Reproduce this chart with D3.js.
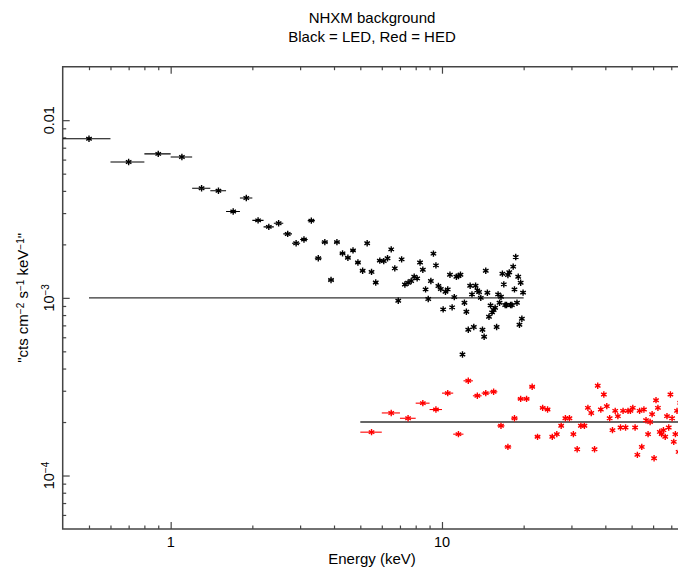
<!DOCTYPE html>
<html>
<head>
<meta charset="utf-8">
<script src="https://cdn.jsdelivr.net/npm/d3@7"></script>
<style>
  body { margin: 0; background: #fff; }
  svg { display: block; font-family: "Liberation Sans", Arial, sans-serif; }
</style>
</head>
<body>
<div id="chart"></div>
<script>
// LED (black) background spectrum, bins of 0.2 keV
const ledEnergy = [0.5, 0.7, 0.9, 1.1, 1.3, 1.5, 1.7, 1.9, 2.1, 2.3, 2.5, 2.7, 2.9, 3.1, 3.3, 3.5, 3.7, 3.9,
    4.1, 4.3, 4.5, 4.7, 4.9, 5.1, 5.3, 5.5, 5.7, 5.9, 6.1, 6.3, 6.5, 6.7, 6.9, 7.1, 7.3, 7.5, 7.7, 7.9,
    8.1, 8.3, 8.5, 8.7, 8.9, 9.1, 9.3, 9.5, 9.7, 9.9, 10.1, 10.3, 10.5, 10.7, 10.9, 11.1, 11.3, 11.5,
    11.7, 11.9, 12.1, 12.3, 12.5, 12.7, 12.9, 13.1, 13.3, 13.5, 13.7, 13.9, 14.1, 14.3, 14.5, 14.7,
    14.9, 15.1, 15.3, 15.5, 15.7, 15.9, 16.1, 16.3, 16.5, 16.7, 16.9, 17.1, 17.3, 17.5, 17.7, 17.9,
    18.1, 18.3, 18.5, 18.7, 18.9, 19.1, 19.3, 19.5, 19.7, 19.9];
const ledRate = [7.86e-3, 5.82e-3, 6.46e-3, 6.2e-3, 4.14e-3, 4.01e-3, 3.06e-3, 3.65e-3, 2.73e-3, 2.51e-3,
    2.63e-3, 2.29e-3, 2.03e-3, 2.13e-3, 2.72e-3, 1.67e-3, 2.06e-3, 1.26e-3, 2.06e-3, 1.78e-3, 1.68e-3,
    1.85e-3, 1.58e-3, 1.42e-3, 2.03e-3, 1.40e-3, 1.22e-3, 1.62e-3, 1.61e-3, 1.67e-3, 1.875e-3, 1.466e-3,
    0.963e-3, 1.647e-3, 1.19e-3, 1.215e-3, 1.243e-3, 1.315e-3, 1.287e-3, 1.58e-3, 1.44e-3, 1.116e-3,
    0.985e-3, 1.243e-3, 1.773e-3, 1.524e-3, 1.167e-3, 1.121e-3, 0.861e-3, 1.083e-3, 1.116e-3, 1.35e-3,
    0.884e-3, 1.01e-3, 1.315e-3, 1.327e-3, 1.35e-3, 0.48e-3, 0.939e-3, 0.835e-3, 0.661e-3, 1.17e-3,
    1.046e-3, 0.685e-3, 1.17e-3, 1.102e-3, 1.078e-3, 1.0e-3, 0.661e-3, 0.604e-3, 1.422e-3, 1.069e-3,
    0.783e-3, 0.907e-3, 0.828e-3, 0.854e-3, 0.88e-3, 0.685e-3, 1.046e-3, 0.939e-3, 1.015e-3, 1.368e-3,
    1.191e-3, 0.911e-3, 0.911e-3, 1.345e-3, 1.392e-3, 0.911e-3, 0.911e-3, 1.498e-3, 1.116e-3, 1.698e-3,
    0.939e-3, 1.315e-3, 0.706e-3, 1.217e-3, 0.763e-3, 1.07e-3];
const ledHalfWidth = 0.1;

// HED (red) background spectrum, bins of 1 keV
const hedEnergy = [5.5, 6.5, 7.5, 8.5, 9.5, 10.5, 11.5, 12.5, 13.5, 14.5, 15.5, 16.5, 17.5, 18.5, 19.5,
    20.5, 21.5, 22.5, 23.5, 24.5, 25.5, 26.5, 27.5, 28.5, 29.5, 30.5, 31.5, 32.5, 33.5, 34.5, 35.5,
    36.5, 37.5, 38.5, 39.5, 40.5, 41.5, 42.5, 43.5, 44.5, 45.5, 46.5, 47.5, 48.5, 49.5, 50.5, 51.5,
    52.5, 53.5, 54.5, 55.5, 56.5, 57.5, 58.5, 59.5, 60.5, 61.5, 62.5, 63.5, 64.5, 65.5, 66.5, 67.5,
    68.5, 69.5, 70.5, 71.5, 72.5, 73.5, 74.5, 75.5];
const hedRate = [1.754e-4, 2.25e-4, 2.10e-4, 2.554e-4, 2.352e-4, 2.909e-4, 1.709e-4, 3.412e-4, 2.81e-4,
    2.909e-4, 2.96e-4, 1.904e-4, 1.449e-4, 2.10e-4, 2.70e-4, 2.70e-4, 3.157e-4, 1.651e-4, 2.404e-4,
    2.352e-4, 1.651e-4, 1.709e-4, 1.904e-4, 2.10e-4, 2.10e-4, 1.709e-4, 1.406e-4, 1.904e-4, 1.904e-4,
    2.404e-4, 2.25e-4, 1.406e-4, 3.198e-4, 2.352e-4, 2.858e-4, 2.457e-4, 2.10e-4, 1.80e-4, 2.312e-4,
    2.158e-4, 1.863e-4, 2.312e-4, 1.863e-4, 2.312e-4, 2.312e-4, 2.404e-4, 1.863e-4, 1.307e-4, 2.312e-4,
    1.449e-4, 2.352e-4, 2.048e-4, 1.709e-4, 2.0e-4, 2.215e-4, 1.252e-4, 2.655e-4, 2.404e-4, 1.76e-4,
    1.709e-4, 1.80e-4, 1.651e-4, 2.158e-4, 1.863e-4, 2.858e-4, 2.10e-4, 1.547e-4, 1.709e-4, 2.312e-4,
    1.358e-4, 2.565e-4];
const hedHalfWidth = 0.5;

// flat model levels
const ledModelLevel = 1e-3;
const ledModelRange = [0.5, 20];
const hedModelLevel = 2e-4;
const hedModelRange = [5, 80];

// axis ticks
const xMajor = [1, 10];
const xMinor = [0.5, 0.6, 0.7, 0.8, 0.9, 2, 3, 4, 5, 6, 7, 8, 9, 20, 30, 40, 50, 60, 70];
const yMajor = [1e-4, 1e-3, 1e-2];
const yMajorLabels = [['10', '−4'], ['10', '−3'], ['0.01', '']];
const yMinor = [6e-5, 7e-5, 8e-5, 9e-5, 2e-4, 3e-4, 4e-4, 5e-4, 6e-4, 7e-4, 8e-4, 9e-4,
    2e-3, 3e-3, 4e-3, 5e-3, 6e-3, 7e-3, 8e-3, 9e-3];

const width = 678, height = 567;
const pLeft = 62.7, pRight = 687, pTop = 66.7, pBottom = 529;

const svg = d3.select('#chart').append('svg')
    .attr('width', width)
    .attr('height', height);

const x = d3.scaleLog().domain([0.4, 80]).range([pLeft, pRight]);
const y = d3.scaleLog().domain([5e-5, 0.02]).range([pBottom, pTop]);

const axisColor = '#444';

// ticks (inward) on bottom, top and left
function ticks(axisFn, scale, values, len, transform) {
    const g = svg.append('g')
        .attr('transform', transform)
        .call(axisFn(scale).tickValues(values).tickSize(len).tickFormat(''));
    g.select('.domain').remove();
    g.selectAll('line').attr('stroke', axisColor).attr('stroke-width', 1.2);
}
ticks(d3.axisBottom, x, xMajor, -7, `translate(0,${pBottom})`);
ticks(d3.axisBottom, x, xMinor, -3.5, `translate(0,${pBottom})`);
ticks(d3.axisTop, x, xMajor, -7, `translate(0,${pTop})`);
ticks(d3.axisTop, x, xMinor, -3.5, `translate(0,${pTop})`);
ticks(d3.axisLeft, y, yMajor, -7, `translate(${pLeft},0)`);
ticks(d3.axisLeft, y, yMinor, -3.5, `translate(${pLeft},0)`);

// frame
svg.append('path')
    .attr('d', `M${pRight},${pTop}H${pLeft}V${pBottom}H${pRight}`)
    .attr('fill', 'none')
    .attr('stroke', axisColor)
    .attr('stroke-width', 1.5);

// tick labels
svg.append('g').selectAll('text')
    .data(xMajor)
    .join('text')
    .attr('x', d => x(d))
    .attr('y', 547)
    .attr('text-anchor', 'middle')
    .attr('font-size', 14.5)
    .text(d => d);

const yl = svg.append('g').selectAll('text')
    .data(yMajor)
    .join('text')
    .attr('transform', d => `translate(53.5,${y(d)}) rotate(-90)`)
    .attr('text-anchor', 'middle')
    .attr('font-size', 14.5);
yl.append('tspan').text((d, i) => yMajorLabels[i][0]);
yl.append('tspan')
    .attr('dy', '-0.45em')
    .attr('font-size', 10)
    .text((d, i) => yMajorLabels[i][1]);

// titles
svg.append('text')
    .attr('x', 372).attr('y', 23)
    .attr('text-anchor', 'middle')
    .attr('font-size', 15)
    .text('NHXM background');
svg.append('text')
    .attr('x', 372).attr('y', 42)
    .attr('text-anchor', 'middle')
    .attr('font-size', 15)
    .text('Black = LED, Red = HED');
svg.append('text')
    .attr('x', 372).attr('y', 564)
    .attr('text-anchor', 'middle')
    .attr('font-size', 15)
    .text('Energy (keV)');

const ylab = svg.append('text')
    .attr('transform', `translate(28,${(pTop + pBottom) / 2}) rotate(-90)`)
    .attr('text-anchor', 'middle')
    .attr('font-size', 15);
const parts = [['"cts cm', ''], ['−2', 'sup'], [' s', ''], ['−1', 'sup'], [' keV', ''], ['−1', 'sup'], ['"', '']];
parts.forEach((p, i) => {
    const prevSup = i > 0 && parts[i - 1][1] === 'sup';
    const t = ylab.append('tspan').text(p[0]);
    if (p[1] === 'sup') t.attr('dy', '-0.45em').attr('font-size', 10);
    else if (prevSup) t.attr('dy', '0.3em');
});

// plot area
svg.append('clipPath').attr('id', 'clip')
    .append('rect').attr('x', pLeft).attr('y', pTop).attr('width', pRight - pLeft).attr('height', pBottom - pTop);
const plot = svg.append('g').attr('clip-path', 'url(#clip)');

// model lines
[[ledModelRange, ledModelLevel], [hedModelRange, hedModelLevel]].forEach(([rg, lvl]) => {
    plot.append('line')
        .attr('x1', x(rg[0])).attr('x2', x(rg[1]))
        .attr('y1', y(lvl)).attr('y2', y(lvl))
        .attr('stroke', '#333')
        .attr('stroke-width', 1.4);
});

// asterisk marker
const r = 3.2;
const star = `M0,${-r}V${r}` +
    `M${-r * 0.866},${-r * 0.5}L${r * 0.866},${r * 0.5}` +
    `M${-r * 0.866},${r * 0.5}L${r * 0.866},${-r * 0.5}`;

function series(energy, rate, half, color) {
    const data = energy.map((e, i) => ({ e, v: rate[i] }));
    const g = plot.append('g');
    g.selectAll('line.err')
        .data(data)
        .join('line')
        .attr('class', 'err')
        .attr('x1', d => x(d.e - half)).attr('x2', d => x(d.e + half))
        .attr('y1', d => y(d.v)).attr('y2', d => y(d.v))
        .attr('stroke', color)
        .attr('stroke-width', 1.1);
    g.selectAll('path.pt')
        .data(data)
        .join('path')
        .attr('class', 'pt')
        .attr('d', star)
        .attr('transform', d => `translate(${x(d.e)},${y(d.v)})`)
        .attr('fill', 'none')
        .attr('stroke', color)
        .attr('stroke-width', 1.4);
}
series(ledEnergy, ledRate, ledHalfWidth, '#000');
series(hedEnergy, hedRate, hedHalfWidth, '#f00');
</script>
</body>
</html>
